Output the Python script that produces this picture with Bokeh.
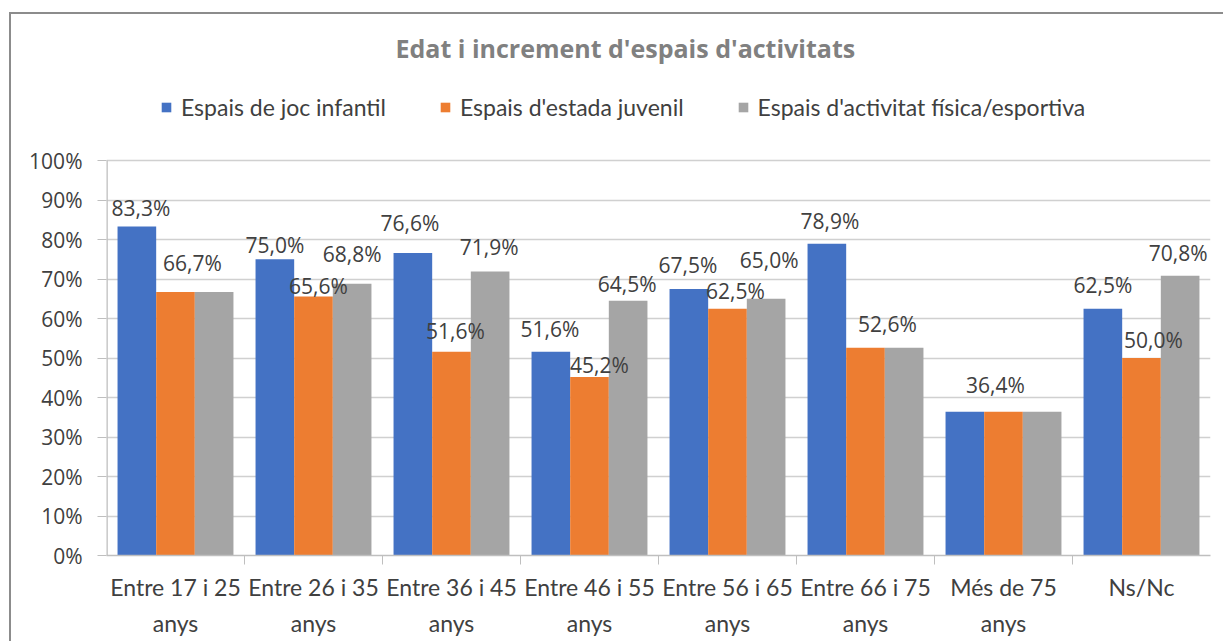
from bokeh.plotting import figure
from bokeh.layouts import column
from bokeh.models import (FactorRange, Range1d, CategoricalAxis, FixedTicker,
                          PrintfTickFormatter, Legend, LegendItem, ColumnDataSource)
from bokeh.transform import dodge
from bokeh.core.properties import value
from bokeh.embed import file_html
from bokeh.resources import INLINE

# ---------------- data ----------------
categories = ["Entre 17 i 25\nanys", "Entre 26 i 35\nanys", "Entre 36 i 45\nanys",
              "Entre 46 i 55\nanys", "Entre 56 i 65\nanys", "Entre 66 i 75\nanys",
              "Més de 75\nanys", "Ns/Nc"]
series_names = ["Espais de joc infantil", "Espais d'estada juvenil",
                "Espais d'activitat física/esportiva"]
joc_infantil = [83.3, 75.0, 76.6, 51.6, 67.5, 78.9, 36.4, 62.5]
estada_juvenil = [66.7, 65.6, 51.6, 45.2, 62.5, 52.6, 36.4, 50.0]
activitat_fisica = [66.7, 68.8, 71.9, 64.5, 65.0, 52.6, 36.4, 70.8]
y_ticks = [0, 10, 20, 30, 40, 50, 60, 70, 80, 90, 100]
title_text = "Edat i increment d'espais d'activitats"

# which data labels are visible in the original (overlapping ones were hidden)
show_joc = [True, True, True, True, True, True, False, True]
show_estada = [True, True, True, True, True, True, True, True]
show_activitat = [False, True, True, True, True, False, False, True]

# ---------------- style / layout ----------------
colors = ["#4472C4", "#ED7D31", "#A5A5A5"]
offsets = [-0.28, 0.0, 0.28]
bar_w = 0.28
dx_lab = [[4, 0, -3, -1, -1, 3, 0, 0],
          [17, 5, 4, 10, 8, 22, -8, 12],
          [0, 0, -1, -1, 3, 0, 0, -2]]
dy_lab = [[18, 14, 30, 23, 24, 23, 20, 24],
          [29, 10, 21, 12, 18, 24, 27, 18],
          [20, 30, 24, 17, 39, 20, 20, 23]]
txt_col = "#404040"
axis_col = "#bfbfbf"
grid_col = "#d0d0d0"
lab_font = "Open Sans"
cat_font = "Lato"

W, H = 1212, 627
frame_top, frame_bottom = 60, 541      # canvas pixels
axis_top_px = 146                      # where 100% sits
y_end = y_ticks[-1] * (frame_bottom - frame_top) / (frame_bottom - axis_top_px)

p = figure(x_range=FactorRange(factors=categories, range_padding=0),
           y_range=Range1d(0, y_end),
           width=W, height=H, output_backend="svg", toolbar_location=None,
           x_axis_location=None, min_border_left=95, min_border_right=13,
           min_border_top=frame_top, min_border_bottom=H - frame_bottom)
p.outline_line_color = None
p.xgrid.grid_line_color = None
p.ygrid.grid_line_color = grid_col
p.ygrid.grid_line_width = 1.3
p.ygrid.ticker = FixedTicker(ticks=y_ticks)

ya = p.yaxis[0]
ya.ticker = FixedTicker(ticks=y_ticks)
ya.formatter = PrintfTickFormatter(format="%d%%")
ya.axis_line_color = None
ya.major_tick_line_color = axis_col
ya.major_tick_out = 9
ya.major_tick_in = 0
ya.minor_tick_line_color = None
ya.major_label_standoff = 15
ya.major_label_text_font = lab_font
ya.major_label_text_font_size = "21px"
ya.major_label_text_color = txt_col

# y axis line only over the 0-100% span
axsrc = ColumnDataSource(dict(cat=[categories[0]], y0=[y_ticks[0]], y1=[y_ticks[-1]]))
p.segment(x0=dodge("cat", -0.5, range=p.x_range), y0="y0",
          x1=dodge("cat", -0.5, range=p.x_range), y1="y1", source=axsrc,
          line_color=axis_col, line_width=2.6)

# boundary ticks: a helper factor range whose factor centres fall on the category boundaries
bound_factors = ["b%d" % i for i in range(len(categories) + 1)]
p.extra_x_ranges = {"bounds": FactorRange(factors=bound_factors, range_padding=-0.5,
                                          range_padding_units="absolute")}
ta = CategoricalAxis(x_range_name="bounds")
ta.axis_line_color = axis_col
ta.axis_line_width = 1.3
ta.major_tick_line_color = axis_col
ta.major_tick_out = 9
ta.major_tick_in = 0
ta.major_label_text_font_size = "1px"
ta.major_label_text_alpha = 0
ta.major_label_standoff = 0
p.add_layout(ta, "below")

ca = CategoricalAxis()
ca.axis_line_color = None
ca.major_tick_line_color = None
ca.major_tick_out = 0
ca.major_label_standoff = 8
ca.major_label_text_font = cat_font
ca.major_label_text_font_size = "23px"
ca.major_label_text_color = txt_col
ca.major_label_text_line_height = 1.3
p.add_layout(ca, "below")

all_vals = [joc_infantil, estada_juvenil, activitat_fisica]
all_show = [show_joc, show_estada, show_activitat]
items = []
for k in range(3):
    src = ColumnDataSource(dict(cat=categories, val=all_vals[k]))
    r = p.vbar(x=dodge("cat", offsets[k], range=p.x_range), top="val", width=bar_w,
               source=src, fill_color=colors[k], line_color=None)
    items.append(LegendItem(label=series_names[k], renderers=[r]))
for k in range(3):
    idx = [i for i in range(len(categories)) if all_show[k][i]]
    lsrc = ColumnDataSource(dict(
        cat=[categories[i] for i in idx],
        val=[all_vals[k][i] for i in idx],
        txt=[("%.1f%%" % all_vals[k][i]).replace(".", ",") for i in idx],
        dx=[dx_lab[k][i] for i in idx],
        dy=[-dy_lab[k][i] for i in idx]))
    p.text(x=dodge("cat", offsets[k], range=p.x_range), y="val", text="txt",
           x_offset="dx", y_offset="dy", source=lsrc,
           text_align="center", text_baseline="middle",
           text_font=value(lab_font), text_font_size="21px", text_color=txt_col)

legend = Legend(items=items, orientation="horizontal", location=(54, 434))
legend.label_text_font = cat_font
legend.label_text_font_size = "23px"
legend.label_text_color = txt_col
legend.glyph_width = 12
legend.glyph_height = 12
legend.label_standoff = 9
legend.spacing = 53
legend.padding = 0
legend.margin = 0
legend.border_line_color = None
legend.background_fill_alpha = 0
p.add_layout(legend, "center")

p.title.text = title_text
p.title.align = "left"
p.title.offset = 289
p.title.standoff = 18
p.title.vertical_align = "middle"
p.title.text_font = lab_font
p.title.text_font_size = "25px"
p.title.text_font_style = "bold"
p.title.text_color = "#808080"

page = column(p, styles={"margin-left": "9px", "margin-top": "12px",
                         "border-left": "2px solid #8c8c8c",
                         "border-top": "2px solid #8c8c8c"})

open("out.html", "w").write(file_html(page, INLINE))
